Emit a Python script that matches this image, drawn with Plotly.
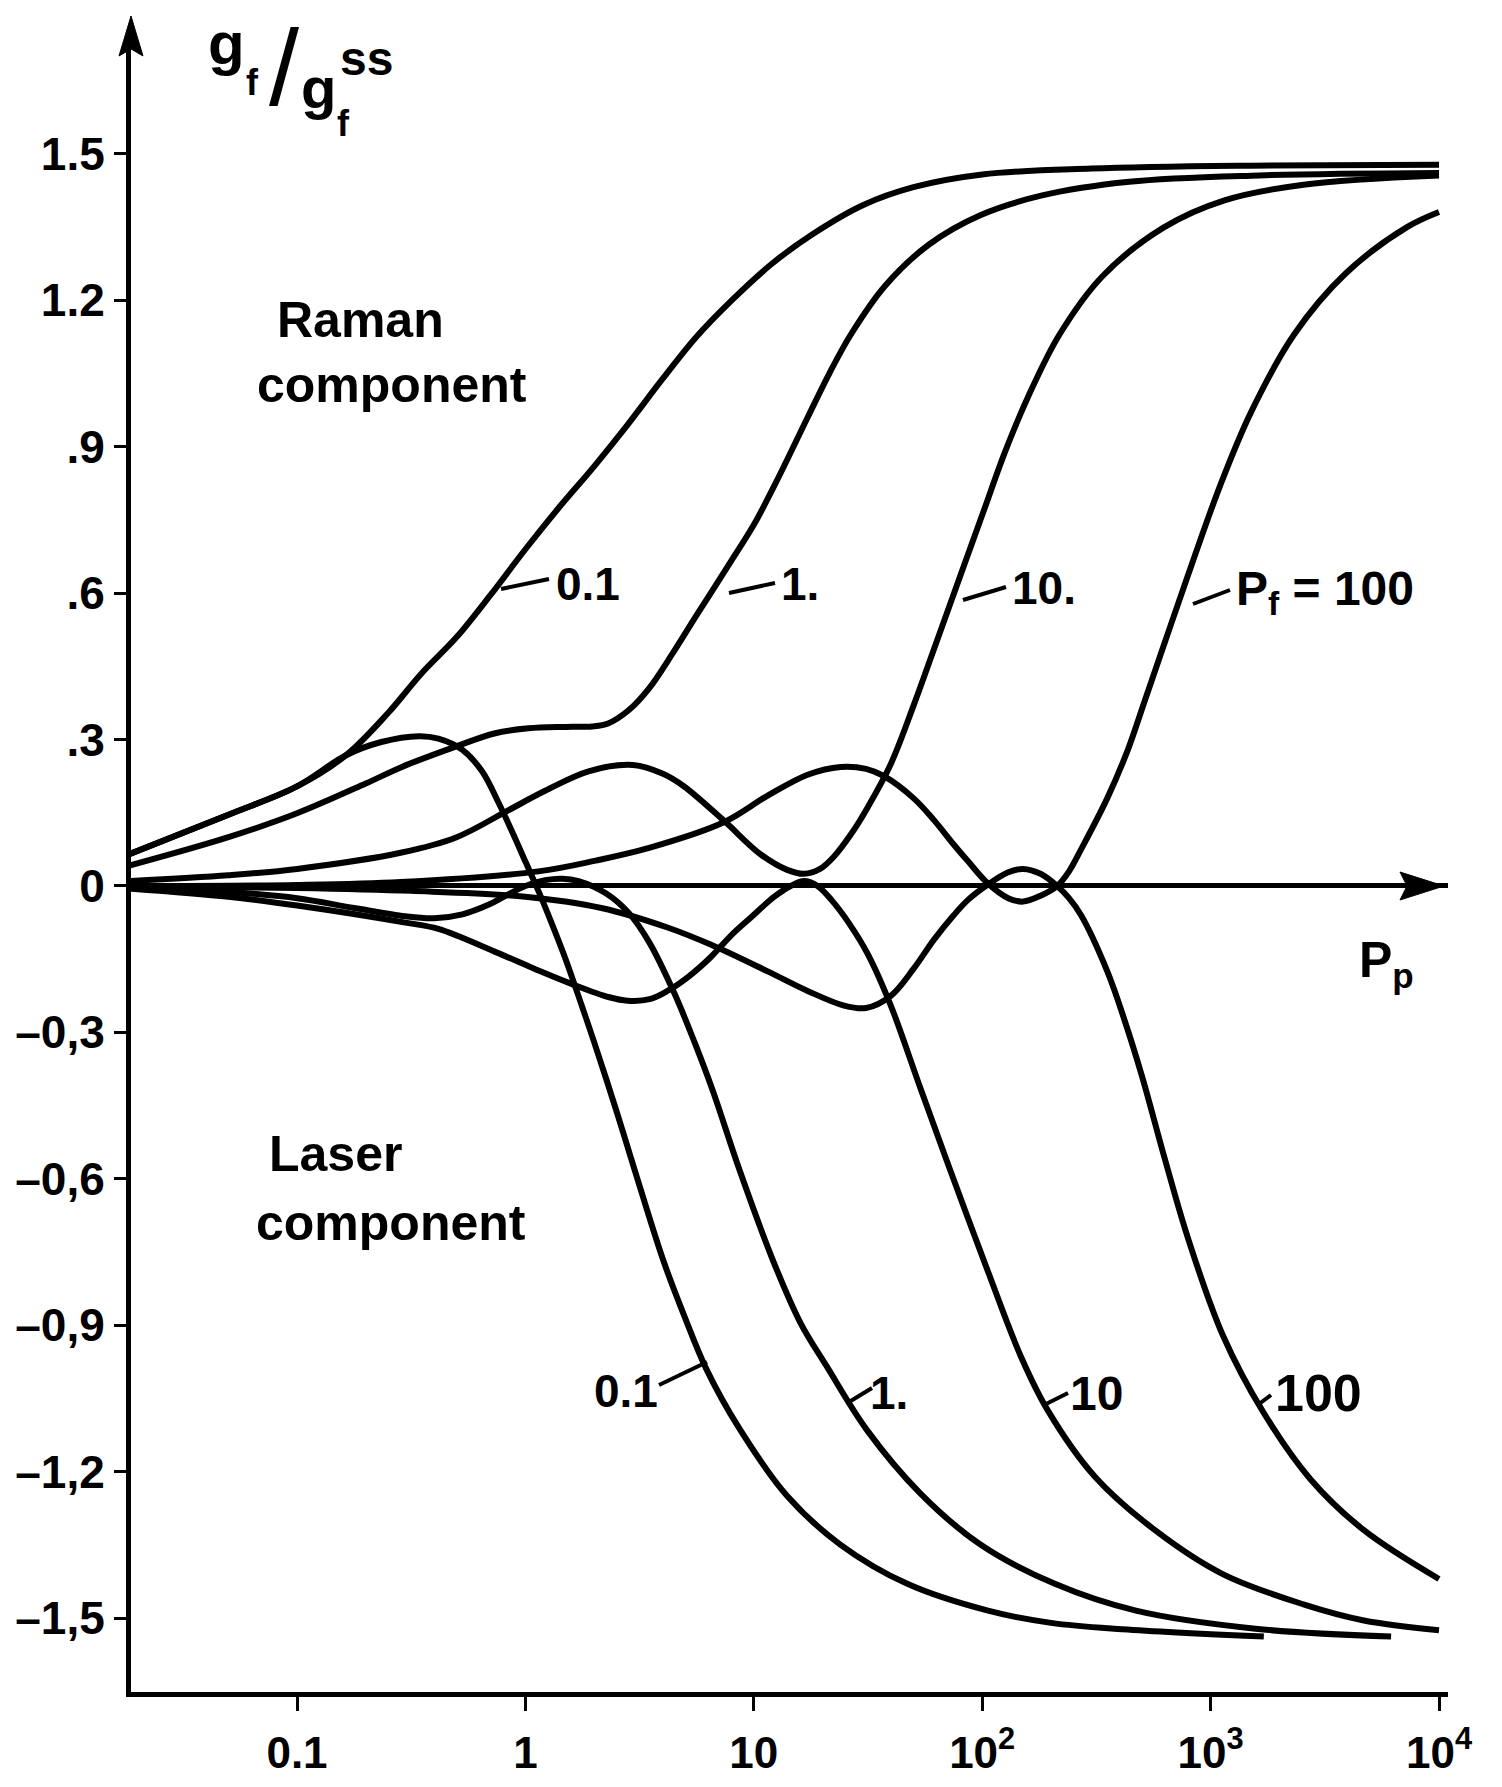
import plotly.graph_objects as go

# ---------------- data ----------------
# Raman component curves  (P_p, g_f/g_f^ss)
raman_01_P = [0.0182, 0.0501, 0.1, 0.164, 0.251, 0.35, 0.5, 0.7, 1.0, 1.4, 2.0, 2.8, 4.0, 5.6, 8.0, 12, 18, 30, 50, 100, 300, 1500, 10000]
raman_01_g = [0.064, 0.146, 0.204, 0.268, 0.355, 0.435, 0.51, 0.595, 0.69, 0.775, 0.86, 0.945, 1.04, 1.125, 1.2, 1.275, 1.335, 1.395, 1.432, 1.458, 1.47, 1.476, 1.478]

raman_1_P = [0.0182, 0.0501, 0.1, 0.2, 0.288, 0.478, 0.738, 1.03, 1.5, 1.96, 2.3, 2.83, 3.48, 4.39, 5.62, 7.94, 10.0, 12.6, 17.2, 21.4, 26.6, 37.6, 58.7, 98.6, 183, 440, 1630, 10000]
raman_1_g = [0.041, 0.10, 0.149, 0.21, 0.244, 0.283, 0.313, 0.323, 0.326, 0.327, 0.333, 0.36, 0.405, 0.475, 0.555, 0.665, 0.74, 0.83, 0.96, 1.05, 1.13, 1.23, 1.315, 1.375, 1.415, 1.443, 1.456, 1.461]

raman_10_P = [0.0182, 0.0501, 0.1, 0.284, 0.5, 0.818, 1.22, 1.89, 2.96, 4.0, 4.92, 7.35, 10.7, 14, 16.6, 19.5, 22.4, 27, 31.6, 39.8, 50.1, 63.1, 79.4, 100, 126, 158, 218, 337, 627, 1150, 2550, 10000]
raman_10_g = [0.01, 0.022, 0.035, 0.068, 0.1, 0.152, 0.195, 0.235, 0.248, 0.23, 0.205, 0.135, 0.065, 0.033, 0.025, 0.035, 0.06, 0.11, 0.162, 0.25, 0.37, 0.5, 0.63, 0.76, 0.89, 1.0, 1.13, 1.25, 1.35, 1.405, 1.437, 1.456]

raman_100_P = [0.0182, 0.1, 0.284, 1.14, 2.03, 3.48, 7.35, 11.5, 17.2, 24, 31, 37.2, 50, 61.5, 75, 86.9, 106, 130, 151, 180, 213, 240, 271, 353, 435, 511, 631, 794, 1100, 1500, 2320, 3900, 7240, 10000]
raman_100_g = [0.0, 0.002, 0.008, 0.03, 0.052, 0.078, 0.13, 0.185, 0.228, 0.244, 0.24, 0.225, 0.18, 0.135, 0.085, 0.05, 0.005, -0.025, -0.032, -0.02, 0.0, 0.03, 0.075, 0.18, 0.28, 0.375, 0.5, 0.635, 0.82, 0.97, 1.13, 1.255, 1.35, 1.381]

# Laser component curves
laser_01_P = [0.0182, 0.0501, 0.1, 0.164, 0.234, 0.342, 0.416, 0.53, 0.646, 0.764, 0.877, 1.0, 1.14, 1.3, 1.5, 1.75, 2.0, 2.5, 3.0, 4.0, 5.0, 6.2, 8.6, 14, 24, 47, 106, 200, 410, 1710]
laser_01_g = [0.064, 0.146, 0.204, 0.268, 0.295, 0.307, 0.302, 0.279, 0.235, 0.17, 0.11, 0.05, -0.01, -0.075, -0.15, -0.24, -0.32, -0.46, -0.58, -0.765, -0.885, -0.99, -1.11, -1.25, -1.35, -1.43, -1.485, -1.51, -1.523, -1.538]

laser_1_P = [0.0182, 0.0501, 0.1, 0.178, 0.298, 0.398, 0.53, 0.692, 0.818, 1.0, 1.22, 1.45, 1.71, 2.25, 2.83, 3.48, 4.49, 5.5, 6.62, 8.63, 12.2, 16, 20.9, 31.3, 53.7, 98.6, 208, 471, 1570, 6170]
laser_1_g = [0.0, -0.012, -0.025, -0.045, -0.062, -0.066, -0.058, -0.038, -0.02, 0.0, 0.012, 0.015, 0.01, -0.015, -0.055, -0.115, -0.22, -0.32, -0.42, -0.58, -0.77, -0.895, -0.985, -1.115, -1.245, -1.35, -1.43, -1.485, -1.522, -1.538]

laser_10_P = [0.0182, 0.0501, 0.1, 0.298, 0.416, 0.738, 1.1, 1.58, 2.33, 2.8, 3.5, 4.19, 5.2, 6.47, 8.0, 9.68, 12.3, 14.5, 16.6, 19, 22, 26, 31.6, 39.8, 53.7, 74.8, 106, 148, 194, 311, 571, 1130, 2550, 4690, 10000]
laser_10_g = [-0.005, -0.022, -0.04, -0.075, -0.088, -0.135, -0.17, -0.2, -0.228, -0.235, -0.232, -0.215, -0.185, -0.146, -0.1, -0.065, -0.022, 0.0, 0.01, 0.0, -0.03, -0.075, -0.14, -0.245, -0.415, -0.6, -0.79, -0.965, -1.075, -1.21, -1.32, -1.41, -1.472, -1.505, -1.525]

laser_100_P = [0.0182, 0.1, 0.316, 1.0, 2.15, 4.19, 6.47, 11.5, 17.2, 24.8, 31, 39.8, 50, 61.5, 75, 86.9, 106, 130, 151, 180, 213, 240, 271, 353, 420, 501, 631, 794, 1130, 1710, 2730, 4690, 10000]
laser_100_g = [0.0, -0.004, -0.01, -0.022, -0.045, -0.085, -0.12, -0.175, -0.215, -0.245, -0.25, -0.225, -0.17, -0.11, -0.06, -0.028, 0.003, 0.028, 0.035, 0.025, 0.0, -0.025, -0.06, -0.175, -0.275, -0.39, -0.56, -0.72, -0.92, -1.08, -1.215, -1.32, -1.42]

x_tickvals = [0.1, 1, 10, 100, 1000, 10000]
x_ticktext = ["0.1", "1", "10", "10<sup>2</sup>", "10<sup>3</sup>", "10<sup>4</sup>"]
y_tickvals = [1.5, 1.2, 0.9, 0.6, 0.3, 0, -0.3, -0.6, -0.9, -1.2, -1.5]
y_ticktext = ["1.5", "1.2", ".9", ".6", ".3", "0", "–0,3", "–0,6", "–0,9", "–1,2", "–1,5"]

# ---------------- layout geometry (page pixels) ----------------
PAGE_W, PAGE_H = 1502, 1787
OFF = 8                      # default body margin of the html page
W, H = PAGE_W - 2 * OFF, PAGE_H - 2 * OFF
X0, X1 = 131, 1448           # plot area, page pixels
Y0, Y1 = 30, 1692
X_RANGE = [-1.7268, 4.0394]
Y_RANGE = [-1.6516, 1.754]
FONT = "Liberation Sans, Arial, DejaVu Sans, sans-serif"


def px(x):
    return (x - X0) / (X1 - X0)


def py(y):
    return (Y1 - y) / (Y1 - Y0)


fig = go.Figure()
for P, g in [(raman_01_P, raman_01_g), (raman_1_P, raman_1_g), (raman_10_P, raman_10_g),
             (raman_100_P, raman_100_g), (laser_01_P, laser_01_g), (laser_1_P, laser_1_g),
             (laser_10_P, laser_10_g), (laser_100_P, laser_100_g)]:
    fig.add_trace(go.Scatter(x=P, y=g, mode="lines", showlegend=False, hoverinfo="skip",
                             line=dict(color="black", width=6, shape="spline", smoothing=1.0)))

annotations = []


def text(s, x, y, size=48, xanchor="center", weight="bold"):
    annotations.append(dict(text=s, x=px(x), y=py(y), xref="paper", yref="paper",
                            showarrow=False, xanchor=xanchor, yanchor="middle",
                            font=dict(family=FONT, size=size, color="black", weight=weight)))


# axis title g_f / g_f^ss
text("g", 226, 44, 60)
text("f", 252, 83, 36)
text("/", 284, 68, 108, weight="normal")
text("g", 318, 88, 58)
text("ss", 366, 58, 48)
text("f", 343, 124, 36)
# P_p
text("P<sub>p</sub>", 1386, 964, 50)
# region labels
text("Raman", 360, 320, 50)
text("component", 392, 385, 50)
text("Laser", 335, 1154, 50)
text("component", 391, 1223, 50)
# curve labels (Raman)
text("0.1", 588, 584, 46)
text("1.", 800, 584, 46)
text("10.", 1044, 588, 46)
text("P<sub>f</sub> = 100", 1234, 592, 48, xanchor="left")
# curve labels (Laser)
text("0.1", 626, 1391, 46)
text("1.", 889, 1393, 46)
text("10", 1096, 1393, 48)
text("100", 1318, 1393, 52)

shapes = []


def seg(x0, y0, x1, y1, w=4):
    shapes.append(dict(type="line", xref="paper", yref="paper", x0=px(x0), y0=py(y0),
                       x1=px(x1), y1=py(y1), line=dict(color="black", width=w)))


# leader lines
seg(501, 589, 549, 579)
seg(729, 593, 775, 583)
seg(963, 600, 1006, 587)
seg(1193, 604, 1230, 590)
seg(659, 1385, 707, 1362)
seg(849, 1402, 872, 1388)
seg(1046, 1404, 1068, 1393)
seg(1259, 1404, 1271, 1395)


def path(points):
    d = "M " + " L ".join(f"{px(x):.5f},{py(y):.5f}" for x, y in points) + " Z"
    shapes.append(dict(type="path", xref="paper", yref="paper", path=d,
                       fillcolor="black", line=dict(color="black", width=1)))


# arrowheads: y axis (top) and zero line (right)
path([(131, 16), (119, 56), (131, 49), (143, 56)])
path([(1444, 886), (1400, 872), (1407, 886), (1400, 900)])

fig.update_layout(
    width=W, height=H,
    margin=dict(l=X0 - OFF, r=(OFF + W) - X1, t=Y0 - OFF, b=(OFF + H) - Y1, pad=0, autoexpand=False),
    paper_bgcolor="white", plot_bgcolor="white",
    annotations=annotations, shapes=shapes,
    xaxis=dict(type="log", range=X_RANGE, showgrid=False, zeroline=False, automargin=False,
               showline=True, linecolor="black", linewidth=5,
               ticks="outside", ticklen=14, tickwidth=3, tickcolor="black",
               tickvals=x_tickvals, ticktext=x_ticktext, ticklabelstandoff=4,
               tickfont=dict(family=FONT, size=44, color="black", weight="bold")),
    yaxis=dict(range=Y_RANGE, showgrid=False, zeroline=True, zerolinecolor="black",
               zerolinewidth=5, showline=True, linecolor="black", linewidth=5, automargin=False,
               ticks="outside", ticklen=12, tickwidth=3, tickcolor="black",
               tickvals=y_tickvals, ticktext=y_ticktext,
               tickfont=dict(family=FONT, size=46, color="black", weight="bold")),
)

fig.write_html("out.html")
